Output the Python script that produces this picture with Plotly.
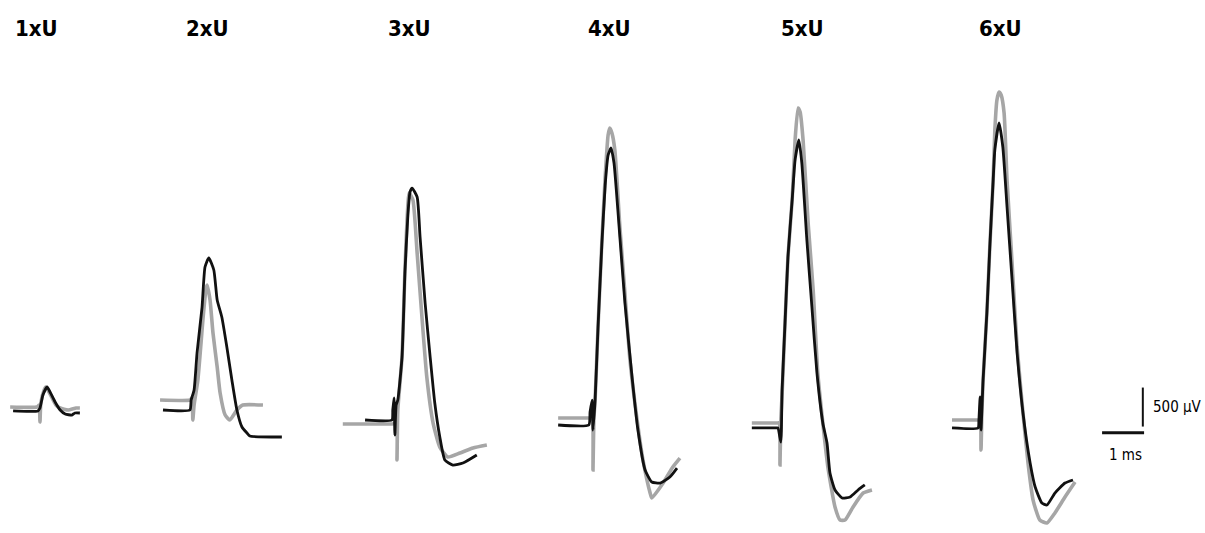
import plotly.graph_objects as go

# Evoked responses at six stimulus intensities (multiples of threshold U).
# Time in ms relative to the stimulus, amplitude in µV relative to the pre-stimulus baseline.
intensity_labels = ["1xU", "2xU", "3xU", "4xU", "5xU", "6xU"]

# --- gray traces ---
gray_t_1 = [-0.71, -0.07, -0.02, 0.0, 0.02, 0.10, 0.14, 0.19, 0.29, 0.38, 0.48, 0.67, 0.86, 0.95]
gray_v_1 = [13, 13, 38, -180, 64, 231, 269, 231, 128, 38, 0, -26, 0, 0]
gray_t_2 = [-0.76, -0.05, 0.0, 0.02, 0.05, 0.14, 0.26, 0.33, 0.36, 0.43, 0.50, 0.60, 0.67, 0.79, 0.90, 1.07, 1.21, 1.69]
gray_v_2 = [64, 64, 90, -192, 0, 321, 1090, 1474, 1538, 1346, 923, 487, 154, -128, -192, -64, 0, 0]
gray_t_3 = [-1.29, -0.17, -0.02, 0.0, 0.02, 0.12, 0.19, 0.24, 0.29, 0.38, 0.48, 0.60, 0.71, 0.86, 1.02, 1.21, 1.50, 1.81, 2.14]
gray_v_3 = [-26, -26, -26, -487, 154, 833, 1949, 2590, 2936, 2846, 2167, 1308, 577, -13, -321, -449, -397, -333, -295]
gray_t_4 = [-0.83, -0.07, -0.02, 0.0, 0.02, 0.05, 0.12, 0.21, 0.29, 0.36, 0.40, 0.45, 0.52, 0.64, 0.76, 0.88, 1.05, 1.19, 1.36, 1.40, 1.67, 1.90, 2.07]
gray_v_4 = [51, 51, 51, -615, 26, 282, 1218, 2295, 3141, 3679, 3769, 3705, 3487, 2500, 1654, 795, 26, -487, -910, -974, -782, -577, -462]
gray_t_5 = [-0.67, -0.07, -0.02, 0.0, 0.02, 0.05, 0.12, 0.19, 0.29, 0.36, 0.43, 0.48, 0.55, 0.67, 0.79, 0.90, 1.02, 1.14, 1.31, 1.43, 1.55, 1.74, 1.98, 2.19]
gray_v_5 = [26, 26, 26, -513, 64, 385, 1308, 2154, 2885, 3654, 4064, 4013, 3654, 2590, 1731, 667, 26, -538, -1051, -1218, -1218, -1051, -872, -833]
gray_t_6 = [-0.69, -0.07, -0.02, 0.0, 0.02, 0.05, 0.14, 0.21, 0.29, 0.33, 0.38, 0.43, 0.48, 0.55, 0.62, 0.74, 0.86, 1.00, 1.12, 1.24, 1.40, 1.57, 1.76, 2.00, 2.24]
gray_v_6 = [64, 64, 64, -321, 128, 577, 1436, 2282, 3141, 3782, 4167, 4269, 4231, 4000, 3141, 2077, 1000, 154, -487, -962, -1218, -1256, -1128, -923, -731]

# --- black traces ---
black_t_1 = [-0.64, -0.05, 0.0, 0.07, 0.17, 0.24, 0.36, 0.48, 0.60, 0.76, 0.83, 0.95]
black_v_1 = [-38, -38, 0, 167, 269, 205, 77, -26, -77, -90, -64, -64]
black_t_2 = [-0.69, -0.05, -0.02, 0.05, 0.12, 0.24, 0.31, 0.40, 0.52, 0.60, 0.71, 0.83, 0.95, 1.07, 1.19, 1.31, 1.38, 2.14]
black_v_2 = [-64, -64, 64, 192, 667, 1256, 1769, 1885, 1731, 1346, 1128, 744, 321, -64, -282, -359, -397, -410]
black_t_3 = [-0.76, -0.12, -0.10, -0.07, -0.05, -0.02, 0.02, 0.12, 0.19, 0.26, 0.31, 0.36, 0.48, 0.55, 0.67, 0.79, 0.90, 1.02, 1.14, 1.33, 1.57, 1.90]
black_v_3 = [26, 26, 154, 308, -167, 218, 282, 833, 1923, 2654, 2949, 3000, 2885, 2372, 1526, 833, 244, -192, -487, -551, -526, -423]
black_t_4 = [-0.83, -0.10, -0.07, -0.02, 0.0, 0.05, 0.12, 0.21, 0.29, 0.36, 0.43, 0.50, 0.64, 0.76, 0.93, 1.07, 1.24, 1.40, 1.60, 1.83, 2.00]
black_v_4 = [-38, -38, 128, 282, -103, 282, 1218, 2269, 3038, 3423, 3513, 3321, 2372, 1526, 577, -103, -615, -769, -782, -705, -590]
black_t_5 = [-0.67, -0.10, -0.05, 0.02, 0.05, 0.12, 0.19, 0.29, 0.36, 0.45, 0.52, 0.64, 0.76, 0.88, 1.02, 1.12, 1.19, 1.31, 1.48, 1.67, 1.86, 2.02]
black_v_5 = [-38, -38, -38, -218, 449, 1308, 2154, 2885, 3397, 3654, 3359, 2372, 1513, 667, 26, -231, -615, -833, -936, -923, -833, -769]
black_t_6 = [-0.69, -0.07, -0.05, -0.02, 0.0, 0.05, 0.14, 0.21, 0.29, 0.33, 0.43, 0.52, 0.62, 0.74, 0.86, 1.00, 1.17, 1.29, 1.45, 1.57, 1.76, 2.00, 2.19]
black_v_6 = [-38, -38, 64, 359, -64, 577, 1436, 2282, 3141, 3526, 3872, 3564, 2795, 1859, 923, 154, -487, -795, -1000, -1026, -872, -744, -705]

gray_traces = [(gray_t_1, gray_v_1), (gray_t_2, gray_v_2), (gray_t_3, gray_v_3),
               (gray_t_4, gray_v_4), (gray_t_5, gray_v_5), (gray_t_6, gray_v_6)]
black_traces = [(black_t_1, black_v_1), (black_t_2, black_v_2), (black_t_3, black_v_3),
                (black_t_4, black_v_4), (black_t_5, black_v_5), (black_t_6, black_v_6)]

# Layout: where each sweep is placed on the shared ms / µV canvas
panel_onset_ms = [0.952, 4.571, 9.452, 14.119, 18.571, 23.357]
panel_baseline_uv = [218, 256, 38, 38, 0, 0]
label_x_ms = [0.88, 4.93, 9.76, 14.52, 19.10, 23.83]

GRAY = "#a6a6a6"
BLACK = "#111111"

fig = go.Figure()
for (t, v), t0, v0 in zip(gray_traces, panel_onset_ms, panel_baseline_uv):
    fig.add_trace(go.Scatter(x=[ti + t0 for ti in t], y=[vi + v0 for vi in v],
                             mode="lines", line=dict(color=GRAY, width=3.6, shape="spline", smoothing=0.5),
                             hoverinfo="skip", showlegend=False))
for (t, v), t0, v0 in zip(black_traces, panel_onset_ms, panel_baseline_uv):
    fig.add_trace(go.Scatter(x=[ti + t0 for ti in t], y=[vi + v0 for vi in v],
                             mode="lines", line=dict(color=BLACK, width=2.8, shape="spline", smoothing=0.5),
                             hoverinfo="skip", showlegend=False))

# Scale bars: 1 ms horizontal, 500 µV vertical
bar_x_end = 27.24
bar_y = -100
fig.add_shape(type="line", x0=bar_x_end - 1.0, x1=bar_x_end, y0=bar_y, y1=bar_y,
              line=dict(color=BLACK, width=3))
fig.add_shape(type="line", x0=bar_x_end - 0.03, x1=bar_x_end - 0.03, y0=-20, y1=480,
              line=dict(color=BLACK, width=2))

FONT = "DejaVu Sans Condensed, Liberation Sans Narrow, Arial Narrow, Liberation Sans, Arial"
label_font = dict(family=FONT, size=22, color="#000000")
for lab, xm in zip(intensity_labels, label_x_ms):
    fig.add_annotation(x=xm, y=0.947, xref="x", yref="paper", text=f"<b>{lab}</b>",
                       showarrow=False, font=label_font, xanchor="center", yanchor="middle")

small_font = dict(family=FONT, size=15, color="#000000")
fig.add_annotation(x=1204 / 42, y=230, xref="x", yref="y", text="500 µV",
                   showarrow=False, font=small_font, xanchor="right", yanchor="middle")
fig.add_annotation(x=bar_x_end - 0.45, y=-390, xref="x", yref="y", text="1 ms",
                   showarrow=False, font=small_font, xanchor="center", yanchor="middle")

fig.update_layout(
    width=1205, height=533,
    margin=dict(l=0, r=0, t=0, b=0),
    paper_bgcolor="white", plot_bgcolor="white",
    xaxis=dict(range=[0, 1205 / 42], visible=False, fixedrange=True),
    yaxis=dict(range=[-108 / 0.078, 425 / 0.078], visible=False, fixedrange=True),
)

fig.write_html("out.html")
